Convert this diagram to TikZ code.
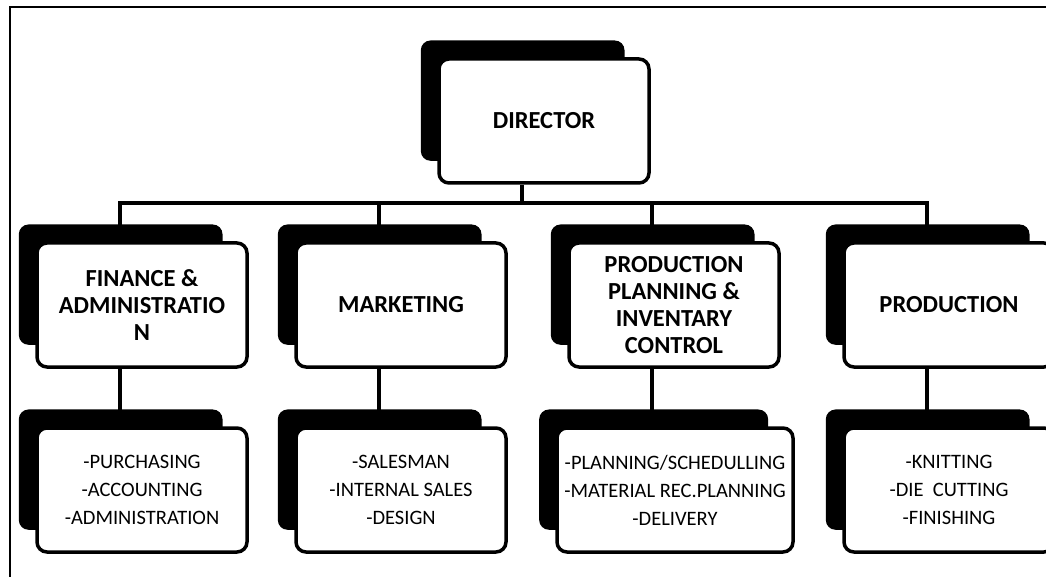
\documentclass[tikz,border=0pt]{standalone}
\usepackage{fontspec}
\setmainfont{Carlito}
\usetikzlibrary{shadows, backgrounds}

\begin{document}
\begin{tikzpicture}[x=1pt, y=-1pt,
  hbox/.style={draw, line width=3.5pt, rounded corners=10pt, fill=white, minimum width=210pt, minimum height=124pt, align=center, inner sep=4pt, font=\fontsize{24.5}{27}\selectfont\bfseries,
    general shadow={fill=black, shadow xshift=-22pt, shadow yshift=21pt, shadow scale=0.97}},
  sbox/.style={hbox, font=\fontsize{20.5}{28}\selectfont},
  conn/.style={line width=3.5pt}
]
  \path[use as bounding box] (0,0) rectangle (1046,577);
  \clip (0,0) rectangle (1046,577);
  \draw[line width=2.5pt] (10,577) -- (10,7) -- (1046,7);

  % Top
  \node[hbox] (dir) at (544,121) {DIRECTOR};

  % Departments
  \node[hbox] (fin) at (142,305) {FINANCE \&\\ADMINISTRATIO\\N};
  \node[hbox] (mkt) at (401,305) {MARKETING};
  \node[hbox] (ppic) at (674,305) {PRODUCTION\\PLANNING \&\\INVENTARY\\CONTROL};
  \node[hbox] (prod) at (949,305) {PRODUCTION};

  % Tasks
  \node[sbox] (fin-sub) at (142,490) {-PURCHASING\\-ACCOUNTING\\-ADMINISTRATION};
  \node[sbox] (mkt-sub) at (401,490) {-SALESMAN\\-INTERNAL SALES\\-DESIGN};
  \node[sbox, minimum width=236pt] (ppic-sub) at (675,490) {-PLANNING/SCHEDULLING\\-MATERIAL REC.PLANNING\\-DELIVERY};
  \node[sbox] (prod-sub) at (949,490) {-KNITTING\\-DIE\ \ CUTTING\\-FINISHING};

  \begin{scope}[on background layer]
    \coordinate (bus) at (0,203);
    \draw[conn] ([xshift=-22pt]dir.south) -- ([xshift=-22pt]dir.south |- bus);
    \draw[conn] ([xshift=-22pt]fin.north) -- ([xshift=-22pt]fin.north |- bus) -- ([xshift=-22pt]prod.north |- bus) -- ([xshift=-22pt]prod.north);
    \foreach \n in {mkt, ppic}
      \draw[conn] ([xshift=-22pt]\n.north) -- ([xshift=-22pt]\n.north |- bus);
    \foreach \n in {fin, mkt, ppic, prod}
      \draw[conn] ([xshift=-22pt]\n.south) -- ([xshift=-22pt]\n.south |- \n-sub.north);
  \end{scope}
\end{tikzpicture}
\end{document}
